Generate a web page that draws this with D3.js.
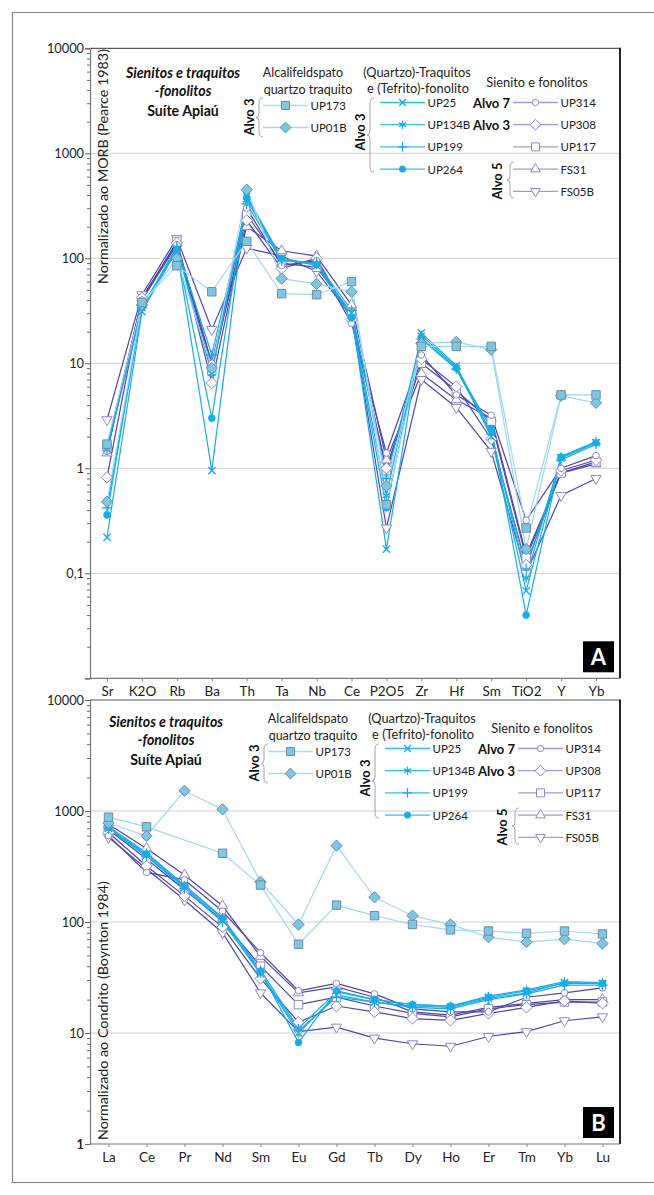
<!DOCTYPE html>
<html>
<head>
<meta charset="utf-8">
<script src="https://cdn.jsdelivr.net/npm/d3@7"></script>
<style>
  body { margin: 0; background: #fff; }
  svg { display: block; font-family: Lato, "Noto Sans", sans-serif; }
</style>
</head>
<body>
<svg id="fig" width="654" height="1195"></svg>
<script>
// ---------- categories ----------
const traceElements = ["Sr","K2O","Rb","Ba","Th","Ta","Nb","Ce","P2O5","Zr","Hf","Sm","TiO2","Y","Yb"];
const reeElements = ["La","Ce","Pr","Nd","Sm","Eu","Gd","Tb","Dy","Ho","Er","Tm","Yb","Lu"];

// ---------- tick labels ----------
const morbTicks = [10000, 1000, 100, 10, 1, 0.1];
const morbTickLabels = ["10000", "1000", "100", "10", "1", "0,1"];
const chondTicks = [10000, 1000, 100, 10, 1];
const chondTickLabels = ["10000", "1000", "100", "10", "1"];

// ---------- samples ----------
const sampleNames = ["UP173","UP01B","UP25","UP134B","UP199","UP264","UP314","UP308","UP117","FS31","FS05B"];

// MORB-normalised values (Pearce 1983), order of traceElements
const morbUP173  = [1.7, 38, 85, 48, 145, 46, 45, 60, 0.45, 14.5, 14.5, 14.5, 0.27, 5.0, 5.0];
const morbUP01B  = [0.48, 36, 100, 9, 450, 64, 57, 48, 0.68, 15.5, 16, 13.5, 0.17, 4.9, 4.2];
const morbUP25   = [0.22, 31, 120, 0.95, 390, 100, 85, 30, 0.17, 19.5, 9.5, 2.0, 0.068, 1.25, 1.75];
const morbUP134B = [1.5, 33, 125, 8, 360, 98, 88, 28, 0.55, 18.5, 9.2, 2.2, 0.09, 1.3, 1.8];
const morbUP199  = [0.42, 34, 130, 12, 330, 95, 90, 32, 0.8, 17, 8.8, 2.1, 0.11, 1.2, 1.7];
const morbUP264  = [0.36, 35, 118, 3.0, 380, 100, 87, 27, 0.42, 17.5, 9.0, 2.4, 0.04, 1.28, 1.75];
const morbUP314  = [1.45, 40, 135, 10, 300, 85, 95, 24, 1.4, 12, 5.0, 3.2, 0.32, 1.0, 1.32];
const morbUP308  = [0.82, 42, 140, 6.5, 230, 80, 100, 26, 1.0, 11, 6.0, 1.9, 0.12, 0.95, 1.2];
const morbUP117  = [1.6, 40, 145, 8.5, 260, 90, 82, 30, 0.95, 10, 5.5, 2.8, 0.14, 0.9, 1.15];
const morbFS31   = [1.4, 42, 140, 10, 200, 118, 105, 36, 1.2, 8.0, 4.5, 3.0, 0.15, 0.9, 1.1];
const morbFS05B  = [2.9, 45, 155, 21, 125, 105, 75, 28, 0.27, 7.0, 3.8, 1.45, 0.1, 0.55, 0.8];

// Chondrite-normalised REE values (Boynton 1984), order of reeElements
// (null = element not determined; the line joins the neighbouring points)
const reeUP173  = [880, 720, null, 416, 215, 63, 142, 114, 95, 85, 83, 79, 83, 78];
const reeUP01B  = [780, 596, 1520, 1035, 230, 95, 487, 167, 114, 95, 73, 66, 70, 64];
const reeUP25   = [700, 400, 205, 104, 34, 10, 22, 19, 17.5, 17, 20.5, 23, 28.5, 28];
const reeUP134B = [720, 420, 215, 110, 37, 11, 23.5, 20, 18, 17.5, 21.5, 24.5, 29, 28.5];
const reeUP199  = [690, 390, 200, 100, 35, 10.5, 21, 19, 17, 16.5, 20, 22.5, 27, 27];
const reeUP264  = [710, 410, 210, 108, 36, 8.2, 24, 20, 18, 17.5, 21, 24, 28, 28];
const reeUP314  = [600, 280, 240, 125, 53, 24, 28, 22.5, 16.5, 15.5, 15.5, 21, 23, 25.5];
const reeUP308  = [640, 320, 172, 90, 31, 12.5, 17.5, 15.5, 13.5, 13, 15, 17, 19.5, 18.5];
const reeUP117  = [680, 370, 195, 103, 40, 18, 21, 17.5, 15, 14, 16.5, 18, 19, 19];
const reeFS31   = [760, 460, 265, 140, 49, 23, 26, 21, 15.5, 14.5, 17, 18.5, 20, 20];
const reeFS05B  = [580, 300, 158, 80, 23, 10.3, 11.3, 9.0, 8.0, 7.6, 9.3, 10.3, 12.9, 14];

const morbValues = [morbUP173, morbUP01B, morbUP25, morbUP134B, morbUP199, morbUP264,
                    morbUP314, morbUP308, morbUP117, morbFS31, morbFS05B];
const reeValues = [reeUP173, reeUP01B, reeUP25, reeUP134B, reeUP199, reeUP264,
                   reeUP314, reeUP308, reeUP117, reeFS31, reeFS05B];

// ---------- styling ----------
const groupOf = {UP173:"light", UP01B:"light", UP25:"blue", UP134B:"blue", UP199:"blue", UP264:"blue",
                 UP314:"purple", UP308:"purple", UP117:"purple", FS31:"purple", FS05B:"purple"};
const markerOf = {UP173:"square", UP01B:"diamond", UP25:"x", UP134B:"star", UP199:"plus", UP264:"dot",
                  UP314:"circle", UP308:"diamond", UP117:"square", FS31:"triUp", FS05B:"triDown"};
const palette = {
  light:  {line:"#9ed8f1", legendLine:"#a6dcf3", fill:"#7cc6e6", stroke:"#6e8d9c"},
  blue:   {line:"#19ace6", legendLine:"#37bdee", fill:"#19ace6", stroke:"#19ace6"},
  purple: {line:"#5046a8", legendLine:"#a09bd5", fill:"#ffffff", stroke:"#8e88c9"}
};
// drawing order (first drawn is underneath)
const drawOrder = ["FS05B","FS31","UP117","UP308","UP314","UP264","UP199","UP134B","UP25","UP01B","UP173"];

function symbolPath(kind, scale) {
  const k = scale || 1;
  const s = d3.symbol();
  switch (kind) {
    case "square":  return s.type(d3.symbolSquare2).size(90 * k)();
    case "diamond": return s.type(d3.symbolDiamond2).size(82 * k)();
    case "triUp":   return s.type(d3.symbolTriangle2).size(76 * k)();
    case "triDown": return s.type(d3.symbolTriangle2).size(76 * k)();
    case "circle":  return s.type(d3.symbolCircle).size(34 * k)();
    case "dot":     return s.type(d3.symbolCircle).size(36 * k)();
    case "x":       return s.type(d3.symbolX).size(36 * k)();
    case "plus":    return s.type(d3.symbolPlus).size(36 * k)();
    case "star":    return s.type(d3.symbolAsterisk).size(54 * k)();
  }
}
const strokeOnly = new Set(["x","plus","star"]);

function drawMarker(g, name, x, y, scale) {
  const kind = markerOf[name];
  const c = palette[groupOf[name]];
  const p = g.append("path")
    .attr("d", symbolPath(kind, scale))
    .attr("transform", `translate(${x},${y})` + (kind === "triDown" ? " rotate(180)" : ""));
  if (strokeOnly.has(kind)) {
    p.attr("fill", "none").attr("stroke", c.stroke).attr("stroke-width", 1.3);
  } else if (kind === "dot") {
    p.attr("fill", c.fill).attr("stroke", c.stroke).attr("stroke-width", 0.8);
  } else {
    p.attr("fill", c.fill).attr("stroke", c.stroke).attr("stroke-width", 1);
  }
}

const svg = d3.select("#fig");

// outer frame of the figure
svg.append("rect")
  .attr("x", 12.5).attr("y", 12.5).attr("width", 700).attr("height", 1170)
  .attr("fill", "none").attr("stroke", "#8a8a8a").attr("stroke-width", 1.2);

// ---------- legend helpers ----------
function brace(g, x, y1, y2) {
  const m = (y1 + y2) / 2;
  g.append("path")
    .attr("d", `M${x+4},${y1} Q${x},${y1} ${x},${y1+5} L${x},${m-4} Q${x},${m} ${x-3},${m}` +
               ` Q${x},${m} ${x},${m+4} L${x},${y2-5} Q${x},${y2} ${x+4},${y2}`)
    .attr("fill", "none").attr("stroke", "#9a9a9a").attr("stroke-width", 0.9);
}
function vLabel(g, text, x, y) {
  g.append("text").attr("transform", `translate(${x},${y}) rotate(-90)`)
    .attr("text-anchor", "middle").attr("dominant-baseline", "central")
    .attr("font-size", 13).attr("font-weight", 700).attr("fill", "#111").text(text);
}
function legendRow(g, name, x1, x2, y) {
  const c = palette[groupOf[name]];
  g.append("line").attr("x1", x1).attr("x2", x2).attr("y1", y).attr("y2", y)
    .attr("stroke", c.legendLine).attr("stroke-width", 1.3);
  drawMarker(g, name, (x1 + x2) / 2, y, 0.9);
  g.append("text").attr("x", x2 + 2.5).attr("y", y).attr("dominant-baseline", "central")
    .attr("font-size", 11.5).attr("fill", "#222").text(name);
}

function drawLegend(g, tdx, tdy, ldx, ldy) {
  // title block
  const t = g.append("g").attr("transform", `translate(${tdx},${tdy})`);
  t.append("text").attr("x", 183).attr("y", 72).attr("text-anchor", "middle").attr("dominant-baseline", "central")
    .attr("font-size", 14.2).attr("font-weight", 700).attr("font-style", "italic").attr("fill", "#111")
    .text("Sienitos e traquitos");
  t.append("text").attr("x", 183).attr("y", 90.5).attr("text-anchor", "middle").attr("dominant-baseline", "central")
    .attr("font-size", 14.2).attr("font-weight", 700).attr("font-style", "italic").attr("fill", "#111")
    .text("-fonolitos");
  t.append("text").attr("x", 183).attr("y", 110).attr("text-anchor", "middle").attr("dominant-baseline", "central")
    .attr("font-size", 14.2).attr("font-weight", 700).attr("fill", "#111")
    .text("Suíte Apiaú");

  const l = g.append("g").attr("transform", `translate(${ldx},${ldy})`);
  // group 1
  l.append("text").attr("x", 303).attr("y", 72).attr("text-anchor", "middle").attr("dominant-baseline", "central")
    .attr("font-size", 12.5).attr("fill", "#222").text("Alcalifeldspato");
  l.append("text").attr("x", 308).attr("y", 89).attr("text-anchor", "middle").attr("dominant-baseline", "central")
    .attr("font-size", 12.5).attr("fill", "#222").text("quartzo traquito");
  vLabel(l, "Alvo 3", 249, 117);
  brace(l, 259, 98, 137);
  legendRow(l, "UP173", 263, 308, 105.5);
  legendRow(l, "UP01B", 263, 308, 127.5);

  // group 2
  l.append("text").attr("x", 417).attr("y", 72).attr("text-anchor", "middle").attr("dominant-baseline", "central")
    .attr("font-size", 12.8).attr("fill", "#222").text("(Quartzo)-Traquitos");
  l.append("text").attr("x", 418).attr("y", 87.5).attr("text-anchor", "middle").attr("dominant-baseline", "central")
    .attr("font-size", 12.8).attr("fill", "#222").text("e (Tefrito)-fonolito");
  vLabel(l, "Alvo 3", 360, 132);
  brace(l, 370, 98, 172);
  ["UP25","UP134B","UP199","UP264"].forEach((n, i) => legendRow(l, n, 380, 425, 102.5 + i * 22.2));

  // group 3
  l.append("text").attr("x", 537).attr("y", 82).attr("text-anchor", "middle").attr("dominant-baseline", "central")
    .attr("font-size", 12.8).attr("fill", "#222").text("Sienito e fonolitos");
  l.append("text").attr("x", 510).attr("y", 102.5).attr("text-anchor", "end").attr("dominant-baseline", "central")
    .attr("font-size", 13).attr("font-weight", 700).attr("fill", "#111").text("Alvo 7");
  l.append("text").attr("x", 510).attr("y", 124.5).attr("text-anchor", "end").attr("dominant-baseline", "central")
    .attr("font-size", 13).attr("font-weight", 700).attr("fill", "#111").text("Alvo 3");
  vLabel(l, "Alvo 5", 497, 181);
  brace(l, 510, 162, 198);
  ["UP314","UP308","UP117","FS31","FS05B"].forEach((n, i) => legendRow(l, n, 513, 558, 102.5 + i * 22.2));
}

// ---------- panel ----------
function drawPanel(cfg) {
  const g = svg.append("g");
  const x = d3.scalePoint().domain(cfg.cats).range(cfg.xRange);
  const y = d3.scaleLog().domain(cfg.domain).range([cfg.bottom, cfg.top]);

  // gridlines
  g.append("g").selectAll("line")
    .data(cfg.ticks.filter(v => v > cfg.domain[0] && v < cfg.domain[1]))
    .join("line")
    .attr("x1", cfg.left).attr("x2", cfg.right)
    .attr("y1", d => y(d)).attr("y2", d => y(d))
    .attr("stroke", "#d3cdd3").attr("stroke-width", 1);

  // plot frame: top + right
  g.append("line").attr("x1", cfg.left).attr("x2", cfg.right).attr("y1", cfg.top).attr("y2", cfg.top)
    .attr("stroke", "#5a5a5a").attr("stroke-width", 1.2);
  g.append("line").attr("x1", cfg.right).attr("x2", cfg.right).attr("y1", cfg.top - 0.6).attr("y2", cfg.bottom)
    .attr("stroke", "#222").attr("stroke-width", 2);

  // minor ticks
  const minor = [];
  for (let e = Math.log10(cfg.domain[0]); e < Math.log10(cfg.domain[1]); e++)
    for (let m = 2; m <= 9; m++) minor.push(m * Math.pow(10, e));
  g.append("g").attr("transform", `translate(${cfg.left},0)`)
    .call(d3.axisLeft(y).tickValues(minor).tickSize(3).tickFormat(""))
    .call(a => a.select(".domain").remove())
    .call(a => a.selectAll("line").attr("stroke", "#666"));

  // y axis (major)
  const yAxis = g.append("g").attr("transform", `translate(${cfg.left},0)`)
    .call(d3.axisLeft(y).tickValues(cfg.ticks.concat([cfg.domain[0]]))
      .tickSize(5).tickPadding(1)
      .tickFormat(d => { const i = cfg.ticks.indexOf(d); return i >= 0 ? cfg.tickLabels[i] : ""; }));
  yAxis.select(".domain").attr("stroke", "#777").attr("stroke-width", 1.2);
  yAxis.selectAll("line").attr("stroke", "#666");
  yAxis.selectAll("text").attr("font-size", 12.8).attr("fill", "#222").attr("font-family", "Lato, 'Noto Sans', sans-serif");

  // x axis
  const xAxis = g.append("g").attr("transform", `translate(0,${cfg.bottom})`)
    .call(d3.axisBottom(x).tickSize(3).tickPadding(5));
  xAxis.select(".domain").attr("d", `M${cfg.left},0H${cfg.right}`).attr("stroke", "#777").attr("stroke-width", 1.2);
  xAxis.selectAll("line").attr("stroke", "#888");
  xAxis.selectAll("text").attr("font-size", 13.5).attr("fill", "#222").attr("font-family", "Lato, 'Noto Sans', sans-serif");

  // y label
  g.append("text")
    .attr("transform", `translate(${cfg.left + 12},${cfg.yLabelStart}) rotate(-90)`)
    .attr("dominant-baseline", "central").attr("font-size", 14.3).attr("fill", "#222")
    .text(cfg.yLabel);

  // series
  const line = d3.line()
    .defined(d => d.v != null)
    .x(d => x(d.cat)).y(d => y(d.v));
  const pointsOf = vals => vals.map((v, i) => ({cat: cfg.cats[i], v}));
  drawOrder.forEach(name => {
    const pts = pointsOf(cfg.values[sampleNames.indexOf(name)]).filter(d => d.v != null);
    g.append("path").datum(pts).attr("d", line)
      .attr("fill", "none").attr("stroke", palette[groupOf[name]].line).attr("stroke-width", 1.2);
  });
  drawOrder.forEach(name => {
    const pts = pointsOf(cfg.values[sampleNames.indexOf(name)]).filter(d => d.v != null);
    const mg = g.append("g");
    pts.forEach(d => drawMarker(mg, name, x(d.cat), y(d.v), 1));
  });

  // panel letter
  g.append("rect").attr("x", cfg.right - 37).attr("y", cfg.bottom - 37).attr("width", 31).attr("height", 31).attr("fill", "#000");
  g.append("text").attr("x", cfg.right - 21.5).attr("y", cfg.bottom - 21.5)
    .attr("text-anchor", "middle").attr("dominant-baseline", "central")
    .attr("font-size", 22).attr("font-weight", 700).attr("fill", "#fff").text(cfg.letter);

  drawLegend(g, cfg.legend[0], cfg.legend[1], cfg.legend[2], cfg.legend[3]);
}

drawPanel({
  letter: "A", cats: traceElements, values: morbValues,
  left: 90, right: 620, top: 48.3, bottom: 678.3, xRange: [107, 596],
  domain: [0.01, 10000], ticks: morbTicks, tickLabels: morbTickLabels,
  yLabel: "Normalizado ao MORB (Pearce 1983)", yLabelStart: 284,
  legend: [0, 0, 0, 0]
});
drawPanel({
  letter: "B", cats: reeElements, values: reeValues,
  left: 90, right: 620, top: 700, bottom: 1144, xRange: [108.5, 602.5],
  domain: [1, 10000], ticks: chondTicks, tickLabels: chondTickLabels,
  yLabel: "Normalizado ao Condrito (Boynton 1984)", yLabelStart: 1140,
  legend: [-17, 649, 5, 646]
});
</script>
</body>
</html>
